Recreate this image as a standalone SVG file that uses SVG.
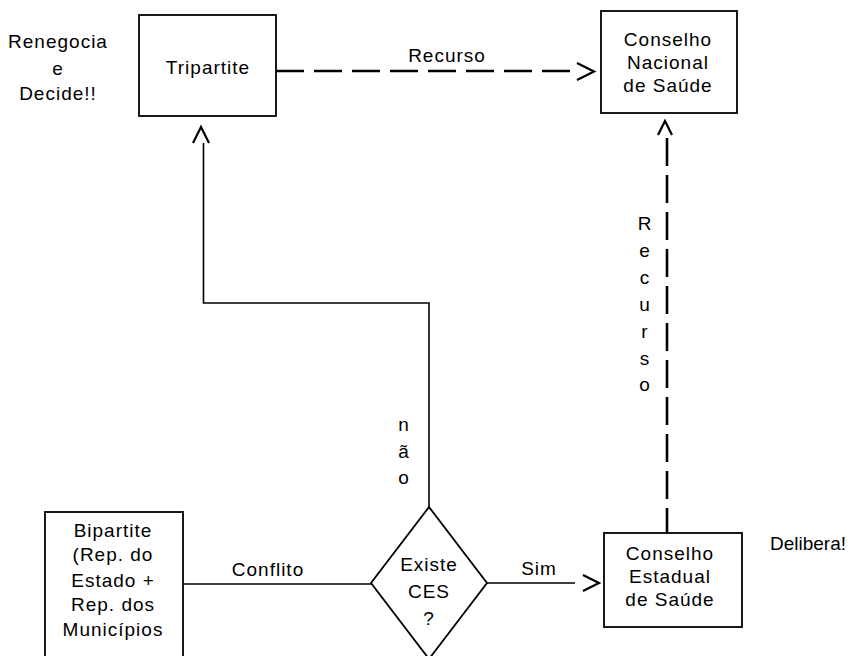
<svg xmlns="http://www.w3.org/2000/svg" width="848" height="656" viewBox="0 0 848 656">
<style>
.box{fill:none;stroke:#000;stroke-width:1.8}
.ln{fill:none;stroke:#000;stroke-width:1.6}
.dash{fill:none;stroke:#000;stroke-width:2.6;stroke-dasharray:28 10}
.dashv{fill:none;stroke:#000;stroke-width:2.6;stroke-dasharray:28 9}
.head{fill:none;stroke:#000;stroke-width:2.2;stroke-linejoin:miter}
text{font-family:"Liberation Sans",Arial,Helvetica,sans-serif;font-size:19px;letter-spacing:1px;fill:#000;text-anchor:middle}
</style>
<rect width="848" height="656" fill="#fff"/>
<g id="connectors">
  <g id="recurso-h">
    <line class="dash" x1="570" y1="71" x2="276" y2="71"/>
    <polyline class="head" points="577,63 594,71.5 577,80"/>
    <text x="447" y="62">Recurso</text>
  </g>
  <g id="recurso-v">
    <line class="dashv" x1="667" y1="138" x2="667" y2="533"/>
    <polyline class="head" points="658,135 665,121 672,135"/>
    <text x="645" y="230">R</text>
    <text x="645" y="257">e</text>
    <text x="645" y="284">c</text>
    <text x="645" y="311">u</text>
    <text x="645" y="338">r</text>
    <text x="645" y="365">s</text>
    <text x="645" y="391">o</text>
  </g>
  <g id="nao">
    <polyline class="ln" points="429,507 429,303 203.5,303 203.5,143"/>
    <polyline class="head" points="193,143 201,127 209,143"/>
    <text x="404" y="431">n</text>
    <text x="404" y="458">ã</text>
    <text x="404" y="484">o</text>
  </g>
  <g id="conflito">
    <line class="ln" x1="183" y1="584" x2="371" y2="584"/>
    <text x="268" y="576">Conflito</text>
  </g>
  <g id="sim">
    <line class="ln" x1="487" y1="583" x2="575" y2="583"/>
    <polyline class="head" points="583,575 599,583 583,591"/>
    <text x="539" y="575">Sim</text>
  </g>
</g>
<g id="tripartite">
  <rect class="box" x="139" y="15" width="137" height="101"/>
  <text x="208" y="74">Tripartite</text>
</g>
<g id="renegocia-label">
  <text x="58" y="48">Renegocia</text>
  <text x="58" y="75">e</text>
  <text x="58" y="100">Decide!!</text>
</g>
<g id="cns">
  <rect class="box" x="601" y="11" width="136" height="102"/>
  <text x="668" y="46">Conselho</text>
  <text x="668" y="69">Nacional</text>
  <text x="668" y="92">de Saúde</text>
</g>
<g id="ces">
  <rect class="box" x="604" y="533" width="138" height="94"/>
  <text x="670" y="560">Conselho</text>
  <text x="670" y="583">Estadual</text>
  <text x="670" y="606">de Saúde</text>
</g>
<g id="delibera-label">
  <text x="808" y="550" style="letter-spacing:0">Delibera!</text>
</g>
<g id="bipartite">
  <rect class="box" x="45" y="512" width="138" height="160"/>
  <text x="113" y="537">Bipartite</text>
  <text x="113" y="561">(Rep. do</text>
  <text x="113" y="587">Estado +</text>
  <text x="113" y="611">Rep. dos</text>
  <text x="113" y="636">Municípios</text>
</g>
<g id="existe-ces">
  <polygon class="box" points="429,507 487,583 429,659 371,583"/>
  <text x="429" y="571">Existe</text>
  <text x="429" y="598">CES</text>
  <text x="429" y="625">?</text>
</g>
</svg>
